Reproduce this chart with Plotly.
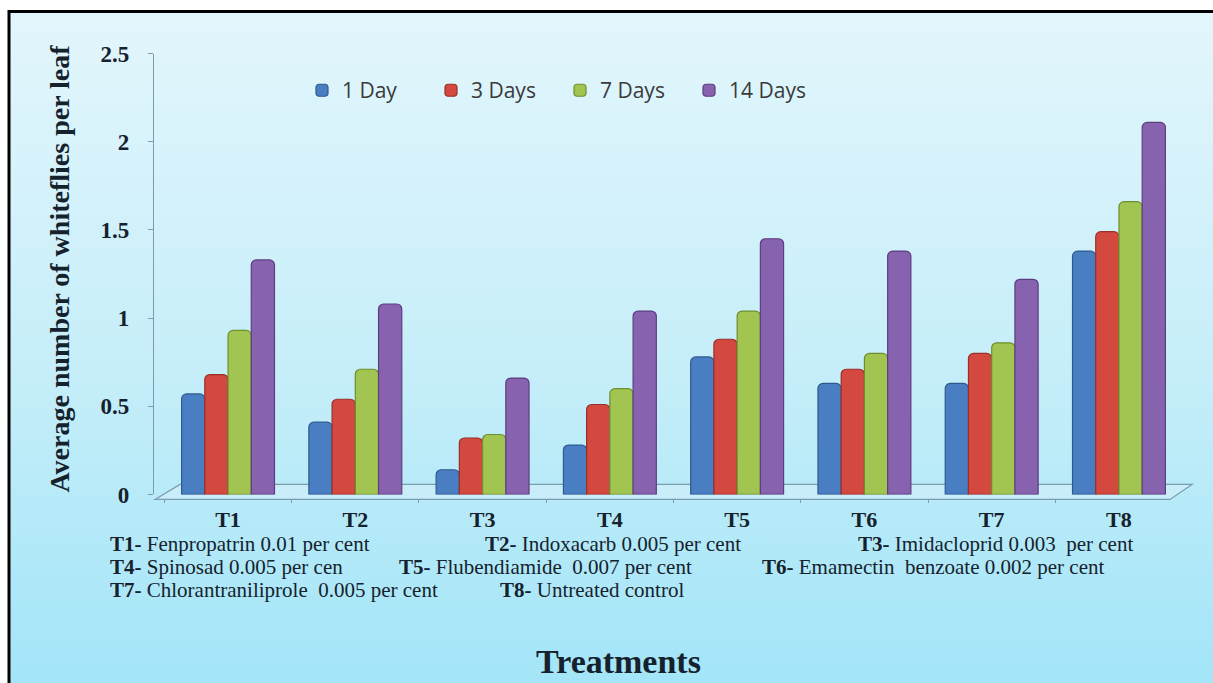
import base64
import plotly.graph_objects as go

# ---- data -------------------------------------------------------------
treatments = ["T1", "T2", "T3", "T4", "T5", "T6", "T7", "T8"]
series_names = ["1 Day", "3 Days", "7 Days", "14 Days"]
day1 = [0.57, 0.41, 0.14, 0.28, 0.78, 0.63, 0.63, 1.38]
day3 = [0.68, 0.54, 0.32, 0.51, 0.88, 0.71, 0.80, 1.49]
day7 = [0.93, 0.71, 0.34, 0.60, 1.04, 0.80, 0.86, 1.66]
day14 = [1.33, 1.08, 0.66, 1.04, 1.45, 1.38, 1.22, 2.11]
y_ticks = [0, 0.5, 1, 1.5, 2, 2.5]
y_tick_labels = ["0", "0.5", "1", "1.5", "2", "2.5"]

key_codes = ["T1-", "T2-", "T3-", "T4-", "T5-", "T6-", "T7-", "T8-"]
key_names = [
    "Fenpropatrin 0.01 per cent",
    "Indoxacarb 0.005 per cent",
    "Imidacloprid 0.003  per cent",
    "Spinosad 0.005 per cen",
    "Flubendiamide  0.007 per cent",
    "Emamectin  benzoate 0.002 per cent",
    "Chlorantraniliprole  0.005 per cent",
    "Untreated control",
]

# ---- styling ----------------------------------------------------------
W, H = 1213, 683
fill_colors = ["#4A7EC2", "#D4493F", "#A2C552", "#8762AE"]
edge_colors = ["#2E5A8E", "#9A2E28", "#6F8D2F", "#5C3E80"]
ink = "#15222d"
serif = "Liberation Serif, Times New Roman, serif"

# the page is drawn slightly squeezed vertically; compensate for it
SQ, OFF = 0.9637, 11.4


def px_x(p):
    return p / W


def px_y(p):
    return 1 - ((p - OFF) / SQ) / H


fig = go.Figure()
for name, vals, fc, ec in zip(series_names, [day1, day3, day7, day14],
                              fill_colors, edge_colors):
    fig.add_trace(go.Bar(
        name=name, x=treatments, y=vals,
        marker=dict(color=fc, line=dict(color=ec, width=1.2), cornerradius=5),
    ))

# background panel with a soft vertical gradient
svg = (
    "<svg xmlns='http://www.w3.org/2000/svg' width='100' height='100' "
    "preserveAspectRatio='none'><defs><linearGradient id='g' x1='0' y1='0' "
    "x2='0' y2='1'><stop offset='0' stop-color='#e3f6fc'/>"
    "<stop offset='0.5' stop-color='#c6eef9'/>"
    "<stop offset='1' stop-color='#9fe4f8'/></linearGradient></defs>"
    "<rect width='100' height='100' fill='url(#g)'/></svg>"
)
bg_src = "data:image/svg+xml;base64," + base64.b64encode(svg.encode()).decode()

shapes = [
    # outer frame
    dict(type="rect", xref="paper", yref="paper",
         x0=px_x(9), x1=px_x(1230), y0=px_y(720), y1=px_y(11),
         line=dict(color="black", width=3), fillcolor="rgba(0,0,0,0)",
         layer="above"),
    # 3-D floor under the bars
    dict(type="path", xref="paper", yref="paper",
         path=(f"M {px_x(155)},{px_y(499)} L {px_x(180)},{px_y(484)} "
               f"L {px_x(1192)},{px_y(484)} L {px_x(1170)},{px_y(499)} Z"),
         line=dict(color="#7d9bb0", width=1.3),
         fillcolor="rgba(215,240,250,0.55)", layer="below"),
]

annotations = [
    dict(text="<b>Average number of whiteflies per leaf</b>", textangle=-90,
         xref="paper", yref="paper", x=px_x(60), y=px_y(268),
         xanchor="center", yanchor="middle",
         showarrow=False, font=dict(family=serif, size=28, color=ink)),
    dict(text="<b>Treatments</b>", xref="paper", yref="paper",
         x=px_x(618), y=px_y(661), xanchor="center", yanchor="middle",
         showarrow=False, font=dict(family=serif, size=34, color=ink)),
]

# treatment key, three rows
key_pos = [(108, 544), (483, 544), (856, 544),
           (108, 567), (397, 567), (760, 567),
           (108, 590), (498, 590)]
for code, desc, (kx, ky) in zip(key_codes, key_names, key_pos):
    annotations.append(dict(
        text=f"<b>{code}</b> {desc}", xref="paper", yref="paper",
        x=px_x(kx), y=px_y(ky), xanchor="left", yanchor="middle",
        showarrow=False, font=dict(family=serif, size=21, color=ink)))

fig.update_layout(
    width=W, height=H,
    margin=dict(l=0, r=0, t=0, b=0),
    paper_bgcolor="white",
    plot_bgcolor="rgba(0,0,0,0)",
    barmode="group", bargap=0.27, bargroupgap=0.0,
    images=[dict(source=bg_src, xref="paper", yref="paper",
                 x=px_x(9), y=px_y(11), sizex=px_x(1230) - px_x(9),
                 sizey=px_y(11) - px_y(720), xanchor="left", yanchor="top",
                 sizing="stretch", layer="below")],
    shapes=shapes,
    annotations=annotations,
    xaxis=dict(
        domain=[px_x(164.4), px_x(1182.6)],
        anchor="free", position=px_y(498),
        showline=False, showgrid=False, zeroline=False,
        ticks="outside", tickson="boundaries", ticklen=4,
        tickcolor="#7d9bb0", ticklabelstandoff=6,
        tickfont=dict(family=serif, size=22, color=ink, weight="bold"),
    ),
    yaxis=dict(
        domain=[px_y(494), px_y(53)], range=[0, 2.5],
        anchor="free", position=px_x(153),
        tickvals=y_ticks, ticktext=y_tick_labels,
        showline=True, linecolor="#7d9bb0", linewidth=1.3,
        showgrid=False, zeroline=False,
        ticks="outside", ticklen=5, tickcolor="#7d9bb0",
        ticklabelstandoff=14,
        tickfont=dict(family=serif, size=23, color=ink, weight="bold"),
    ),
    legend=dict(
        orientation="h", x=px_x(302), y=px_y(90),
        xanchor="left", yanchor="middle",
        entrywidth=84, entrywidthmode="pixels",
        bgcolor="rgba(0,0,0,0)", itemwidth=30,
        font=dict(family="Open Sans, sans-serif", size=21, color="#3a3a3a"),
    ),
)

fig.write_html("out.html")
